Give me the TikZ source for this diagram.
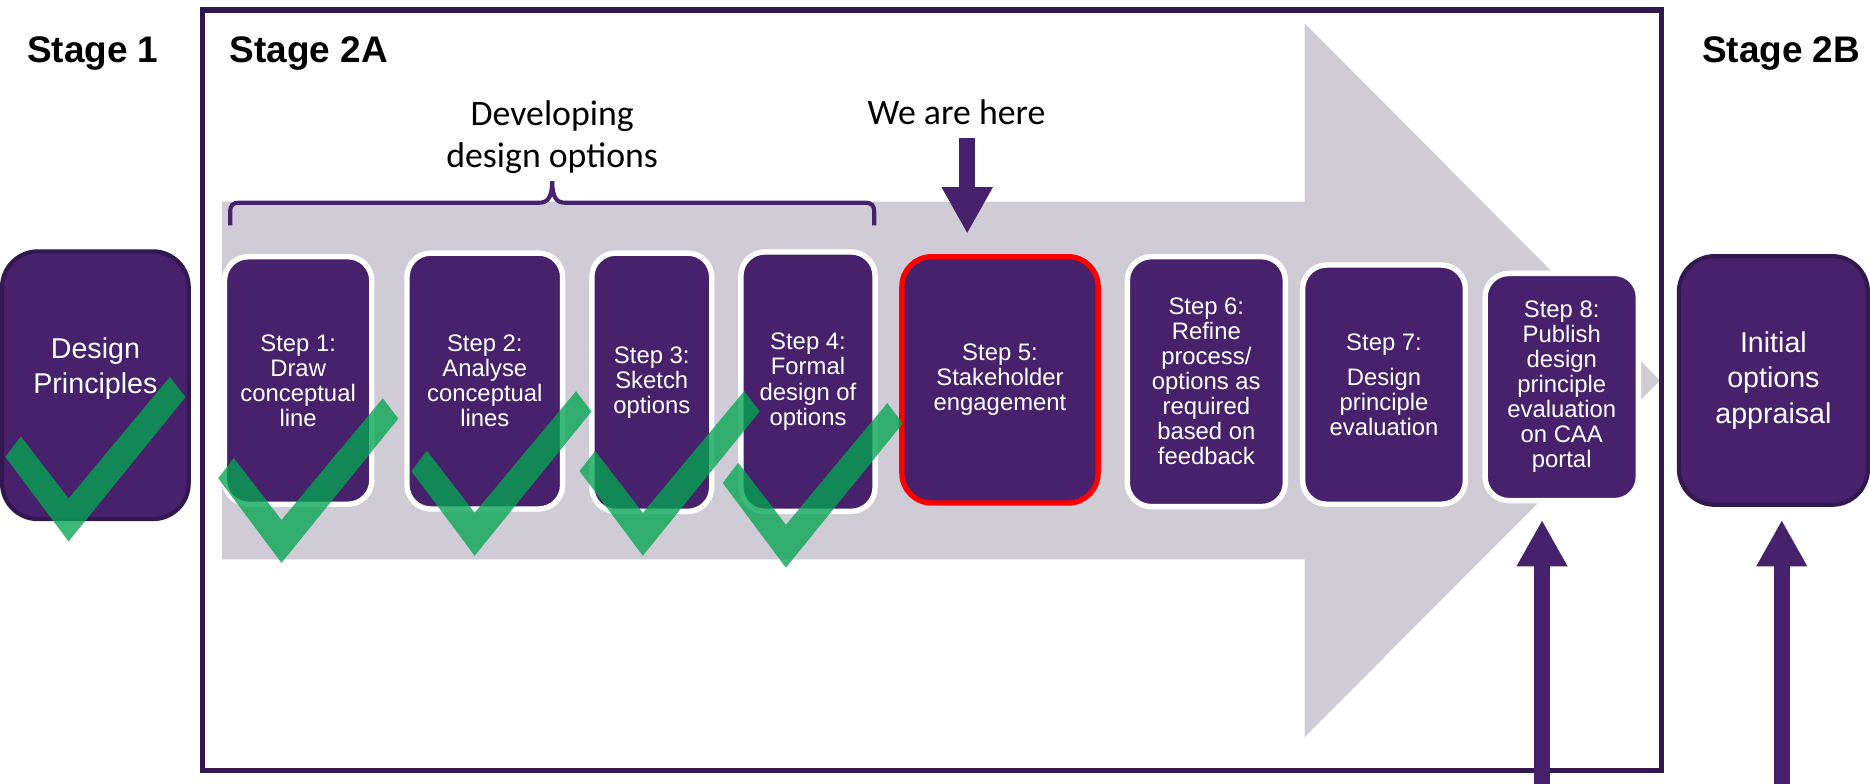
\documentclass[tikz,border=0pt]{standalone}
\usepackage{fontspec}
\setmainfont{Liberation Sans}
\newfontfamily\notefont{Carlito}
\usetikzlibrary{arrows.meta}

\definecolor{plum}{HTML}{47216B}
\definecolor{plumdark}{HTML}{33184F}
\definecolor{flowgray}{HTML}{CFCCD6}
\definecolor{tickgreen}{HTML}{05A552}
\definecolor{hotred}{HTML}{FF0000}

\tikzset{
  stepbox/.style={rectangle, rounded corners=20pt, fill=plum, draw=white,
    line width=4.5pt, text=white, align=center, inner sep=0pt,
    font=\fontsize{20}{21}\selectfont},
  stagebox/.style={rectangle, rounded corners=30pt, fill=plum, draw=plumdark,
    line width=3.5pt, text=white, align=center, inner sep=0pt,
    font=\fontsize{24}{29.5}\selectfont},
  stagetext/.style={text=white, align=center, inner sep=0pt,
    font=\fontsize{24}{29.5}\selectfont},
  stagelabel/.style={inner sep=0pt, font=\bfseries\fontsize{31}{36}\selectfont},
  notetext/.style={inner sep=0pt, align=center, font=\notefont\fontsize{30}{36}\selectfont},
  bigarrow/.style={draw=plum, line width=13pt, -{Triangle[length=39pt,width=40pt]}},
  tick/.style={fill=tickgreen, fill opacity=0.78},
}

% green tick mark, anchored at its bottom point
\newcommand\drawtick[1]{%
  \fill[tick, shift={#1}] (0,0) -- (-53,-71) -- (-40,-88) -- (0,-36)
    -- (85,-138) -- (98,-121) -- cycle;}

\begin{document}
\begin{tikzpicture}[x=1pt, y=-1pt]
\useasboundingbox (0,0) rectangle (1568,657);

% large grey process arrow
\fill[flowgray] (186,169) -- (1094,169) -- (1094,19.5) -- (1392,319)
  -- (1094,618) -- (1094,469) -- (186,469) -- cycle;

% Stage 2A frame
\draw[plumdark, line width=4.5pt] (170,8.5) rectangle (1393,646);

% headings
\node[stagelabel, anchor=base west] (st1) at (22.5,52.5) {Stage 1};
\node[stagelabel, anchor=base west] (st2a) at (192.5,52.5) {Stage 2A};
\node[stagelabel, anchor=base east] (st2b) at (1560,52) {Stage 2B};

\node[notetext] (devopt) at (463,115) {Developing\\design options};
\node[notetext, anchor=base] (here) at (802,104) {We are here};

% brace over steps 1--4
\draw[plum, line width=3.5pt] (193,189) -- (193,178)
  .. controls (193,172) and (195,170) .. (201,170) -- (452,170)
  .. controls (459,170) and (463,166) .. (463,152)
  .. controls (463,166) and (467,170) .. (474,170) -- (725,170)
  .. controls (731,170) and (733,172) .. (733,178) -- (733,189);

% stage boxes
\node[stagebox, minimum width=156.5pt, minimum height=224.5pt] (dp) at (80,323) {};
\node[stagetext] (dpText) at (80,309) {Design\\Principles};
\node[stagebox, minimum width=158.5pt, minimum height=208.5pt] (ia) at (1487,319)
  {Initial\\options\\appraisal};

% step boxes
\node[stepbox, minimum width=123.5pt, minimum height=207.5pt] (s1) at (250,319)
  {Step 1:\\Draw\\conceptual\\line};
\node[stepbox, minimum width=130.5pt, minimum height=214.5pt] (s2) at (406.5,319.5)
  {Step 2:\\Analyse\\conceptual\\lines};
\node[stepbox, minimum width=100.5pt, minimum height=216.5pt] (s3) at (546.5,320.5)
  {Step 3:\\Sketch\\options};
\node[stepbox, minimum width=112.5pt, minimum height=217.5pt] (s4) at (677.5,320)
  {Step 4:\\Formal\\design of\\options};
\node[stepbox, draw=hotred, rounded corners=25pt, minimum width=164.5pt,
  minimum height=206.5pt] (s5) at (838.5,318.5)
  {Step 5:\\Stakeholder\\engagement};
\node[stepbox, minimum width=132.5pt, minimum height=209.5pt] (s6) at (1011.5,320)
  {Step 6:\\Refine\\process/\\options as\\required\\based on\\feedback};
\node[stepbox, minimum width=136.5pt, minimum height=200.5pt] (s7) at (1160.5,322.5)
  {Step 7:\\[8pt]Design\\principle\\evaluation};
\node[stepbox, minimum width=128.5pt, minimum height=190.5pt] (s8) at (1309.5,324.5)
  {Step 8:\\Publish\\design\\principle\\evaluation\\on CAA\\portal};

% pointer arrows
\coordinate (hereTail) at (811,116);
\draw[bigarrow, shorten >=17pt] (hereTail) -- (hereTail |- s5.north);
\coordinate (pubFoot) at (1293,660);
\draw[bigarrow, shorten >=14pt] (pubFoot) -- (pubFoot |- s8.south);
\coordinate (iaFoot) at (1494,660);
\draw[bigarrow, shorten >=11pt] (iaFoot) -- (iaFoot |- ia.south);

% completed-step ticks
\drawtick{(57.5,454)}
\drawtick{(236,472)}
\drawtick{(398,466)}
\drawtick{(539,466)}
\drawtick{(659,476)}

\end{tikzpicture}
\end{document}
